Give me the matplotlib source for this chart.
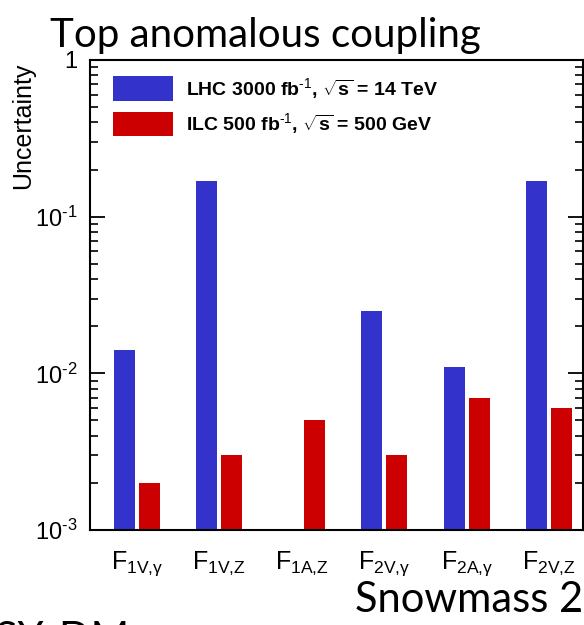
import matplotlib
matplotlib.use("Agg")
import matplotlib.pyplot as plt
import numpy as np
from matplotlib.ticker import LogLocator, NullFormatter, FixedLocator

plt.rcParams['font.family'] = ['Liberation Sans', 'DejaVu Sans']
plt.rcParams['mathtext.fontset'] = 'custom'
plt.rcParams['mathtext.rm'] = 'Liberation Sans'
plt.rcParams['mathtext.it'] = 'Liberation Sans:italic'
plt.rcParams['mathtext.bf'] = 'Liberation Sans:bold'

# ---- data ----------------------------------------------------------------
couplings = [r'F$_{\mathregular{1V{,}γ}}$', r'F$_{\mathregular{1V{,}Z}}$',
             r'F$_{\mathregular{1A{,}Z}}$', r'F$_{\mathregular{2V{,}γ}}$',
             r'F$_{\mathregular{2A{,}γ}}$', r'F$_{\mathregular{2V{,}Z}}$']
lhc = [0.014, 0.17, np.nan, 0.025, 0.011, 0.17]
ilc = [0.002, 0.003, 0.005, 0.003, 0.007, 0.006]
lhc_label = r'LHC 3000 fb$^{\text{-1}}$, $\sqrt{\mathbf{s}}$ = 14 TeV'
ilc_label = r'ILC 500 fb$^{\text{-1}}$, $\sqrt{\mathbf{s}}$ = 500 GeV'
ytick_labels = [r'10$^{\text{-3}}$', r'10$^{\text{-2}}$', r'10$^{\text{-1}}$', '1']

BLUE = '#3333cc'
RED = '#cc0000'

fig = plt.figure(figsize=(5.84, 6.25), dpi=100)
ax = fig.add_axes([90/584, 95/625, 493/584, 470/625])

x = np.arange(len(couplings))
w = 0.255
ax.bar(x - 0.152, lhc, w, color=BLUE, label=lhc_label)
ax.bar(x + 0.152, ilc, w, color=RED, label=ilc_label)

ax.set_yscale('log')
ax.set_ylim(1e-3, 1)
ax.set_xlim(-0.57, 5.41)

ax.set_xticks(x)
ax.set_xticklabels(couplings, fontsize=18)
ax.tick_params(axis='x', length=0, pad=14)

ax.yaxis.set_major_locator(FixedLocator([1e-3, 1e-2, 1e-1, 1]))
ax.set_yticklabels(ytick_labels, fontsize=17)
ax.yaxis.set_minor_locator(LogLocator(base=10, subs=np.arange(2, 10)))
ax.yaxis.set_minor_formatter(NullFormatter())
ax.tick_params(axis='y', which='major', direction='in', length=11, width=1.3,
               right=True, pad=9)
ax.tick_params(axis='y', which='minor', direction='in', length=5.5, width=1.2,
               right=True)
for s in ax.spines.values():
    s.set_linewidth(1.5)

leg = ax.legend(loc='upper left', bbox_to_anchor=(23/493, 1 - 16/470),
                frameon=False, borderpad=0, borderaxespad=0,
                handlelength=3.1, handleheight=1.55, handletextpad=0.65,
                labelspacing=0.55, prop={'weight': 'bold', 'size': 14})

fig.text(23/584, 1 - 63/625, 'Uncertainty', rotation=90, ha='center', va='top',
         fontsize=18)

fig.text(50/584, 1 - 47/625, 'Top anomalous coupling', fontsize=29,
         family=['Lato', 'DejaVu Sans'], va='baseline', ha='left')
fig.text(355/584, 1 - 612/625, 'Snowmass 2013', fontsize=30,
         family=['Lato', 'DejaVu Sans'], va='baseline', ha='left')
fig.text(130/584, 1 - 652/625, 'SUSY-DM', fontsize=30,
         family=['Lato', 'DejaVu Sans'], va='baseline', ha='right')

fig.savefig('out.png', dpi=100)
